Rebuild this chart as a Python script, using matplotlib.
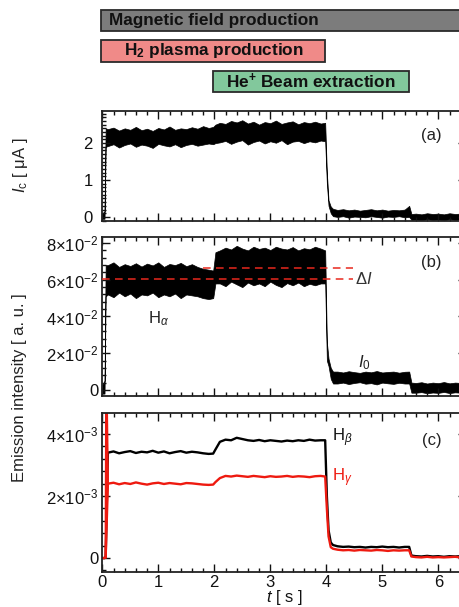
import numpy as np
import matplotlib
matplotlib.use('Agg')
import matplotlib.pyplot as plt
from matplotlib.ticker import MultipleLocator, FixedLocator, FixedFormatter

plt.rcParams['font.family'] = ['Liberation Sans', 'DejaVu Sans']
plt.rcParams['mathtext.fontset'] = 'custom'
plt.rcParams['mathtext.rm'] = 'Liberation Sans'
plt.rcParams['mathtext.it'] = 'Liberation Sans:italic'
plt.rcParams['mathtext.bf'] = 'Liberation Sans:bold'
plt.rcParams['mathtext.sf'] = 'Liberation Sans'

# ---------------- data ----------------
# phase bars
phase_labels = ['Magnetic field production',
                r'$\mathbf{H}_{\mathbf{2}}$ plasma production',
                r'$\mathbf{He}^{\mathbf{+}}$ Beam extraction']
phase_start = [0.0, 0.0, 2.0]
phase_end = [6.7, 4.0, 5.5]
phase_colors = ['#7c7c7c', '#f08a88', '#82c89c']

# common time grid [s]
t = [0.0, 0.04, 0.06,
     0.1, 0.2, 0.3, 0.4, 0.5, 0.6, 0.7, 0.8, 0.9, 1.0,
     1.1, 1.2, 1.3, 1.4, 1.5, 1.6, 1.7, 1.8, 1.9,
     1.98, 2.02,
     2.1, 2.2, 2.3, 2.4, 2.5, 2.6, 2.7, 2.8, 2.9, 3.0,
     3.1, 3.2, 3.3, 3.4, 3.5, 3.6, 3.7, 3.8, 3.9,
     3.98, 4.01, 4.04, 4.08, 4.12,
     4.2, 4.3, 4.4, 4.5, 4.6, 4.7, 4.8, 4.9, 5.0, 5.1, 5.2, 5.3, 5.4,
     5.48, 5.52,
     5.6, 5.7, 5.8, 5.9, 6.0, 6.1, 6.2, 6.3, 6.4, 6.5]

# (a) extracted current I_c [uA], envelope of noisy trace
ic_hi = [0.10, 0.15, 2.40,
         2.38, 2.42, 2.34, 2.40, 2.36, 2.44, 2.35, 2.39, 2.33, 2.41,
         2.37, 2.45, 2.36, 2.40, 2.38, 2.43, 2.39, 2.46, 2.41,
         2.44, 2.50,
         2.55, 2.52, 2.60, 2.56, 2.62, 2.53, 2.58, 2.50, 2.57, 2.54,
         2.61, 2.52, 2.56, 2.59, 2.51, 2.57, 2.54, 2.58, 2.53,
         2.55, 1.20, 0.45, 0.28, 0.22,
         0.19, 0.21, 0.18, 0.20, 0.17, 0.19, 0.21, 0.18, 0.20, 0.17, 0.19, 0.18, 0.20,
         0.30, 0.08,
         0.09, 0.07, 0.10, 0.08, 0.09, 0.07, 0.10, 0.08, 0.09, 0.08]
ic_lo = [-0.05, -0.05, 1.90,
         1.92, 1.97, 1.88, 1.95, 1.99, 1.90, 1.96, 1.93, 1.87, 1.98,
         1.94, 1.91, 1.97, 1.89, 1.95, 1.98, 1.93, 1.96, 1.99,
         1.97, 2.00,
         2.02, 2.06, 1.98, 2.04, 2.08, 1.96, 2.03, 2.07, 1.99, 2.05,
         2.01, 2.08, 1.97, 2.04, 2.06, 2.00, 2.05, 2.02, 2.07,
         2.05, 0.90, 0.30, 0.10, 0.02,
         0.00, 0.02, -0.02, 0.01, 0.00, -0.01, 0.02, 0.00, -0.02, 0.01, 0.00, 0.02, -0.01,
         0.00, -0.08,
         -0.07, -0.09, -0.06, -0.08, -0.07, -0.09, -0.06, -0.08, -0.07, -0.08]

# (b) H-alpha emission [1e-2 a.u.], envelope of noisy trace
ha_hi = [0.30, 0.50, 6.80,
         6.80, 6.95, 6.70, 6.85, 6.75, 6.90, 6.72, 6.88, 6.78, 6.95,
         6.70, 6.86, 6.80, 6.92, 6.74, 6.85, 6.70, 6.60, 6.55,
         6.50, 7.50,
         7.60, 7.75, 7.65, 7.85, 7.70, 7.60, 7.80, 7.68, 7.75, 7.62,
         7.80, 7.70, 7.65, 7.78, 7.60, 7.72, 7.66, 7.80, 7.70,
         7.60, 2.60, 1.70, 1.20, 1.00,
         1.00, 0.95, 1.02, 0.97, 0.93, 1.00, 0.96, 1.03, 0.95, 0.98, 1.00, 0.94, 0.99,
         1.00, 0.40,
         0.38, 0.42, 0.35, 0.40, 0.37, 0.43, 0.36, 0.40, 0.38, 0.41]
ha_lo = [-0.20, -0.20, 5.10,
         5.20, 5.05, 5.30, 5.10, 5.25, 5.00, 5.20, 5.15, 5.30, 5.05,
         5.20, 5.10, 5.25, 5.00, 5.20, 5.15, 5.10, 5.00, 4.95,
         5.00, 5.80,
         5.80, 5.65, 5.90, 5.75, 5.60, 5.85, 5.70, 5.80, 5.65, 5.90,
         5.72, 5.60, 5.82, 5.70, 5.85, 5.65, 5.78, 5.70, 5.80,
         5.80, 1.60, 1.30, 0.60, 0.35,
         0.35, 0.40, 0.32, 0.38, 0.42, 0.34, 0.37, 0.30, 0.40, 0.36, 0.33, 0.39, 0.35,
         0.35, -0.15,
         -0.15, -0.12, -0.18, -0.14, -0.16, -0.11, -0.17, -0.13, -0.15, -0.14]
dI_levels = [6.64, 6.04]          # [1e-2 a.u.]
dI_start = [1.8, 0.0]
dI_end = [4.47, 4.47]

# (c) H-beta and H-gamma emission [1e-3 a.u.]
hb = [0.00, 0.00, 0.02,
      3.40, 3.44, 3.38, 3.42, 3.45, 3.39, 3.43, 3.41, 3.46, 3.40,
      3.44, 3.38, 3.42, 3.45, 3.40, 3.43, 3.41, 3.38, 3.36,
      3.37, 3.50,
      3.75, 3.82, 3.80, 3.88, 3.84, 3.80, 3.78, 3.81, 3.77, 3.80,
      3.78, 3.76, 3.79, 3.77, 3.80, 3.78, 3.82, 3.79, 3.80,
      3.80, 2.00, 0.90, 0.50, 0.42,
      0.38, 0.36, 0.37, 0.35, 0.36, 0.34, 0.36, 0.35, 0.37, 0.35, 0.36, 0.34, 0.36,
      0.36, 0.08,
      0.06, 0.05, 0.07, 0.05, 0.06, 0.04, 0.06, 0.05, 0.06, 0.05]
hg = [0.00, 0.00, 0.02,
      2.40, 2.43, 2.38, 2.42, 2.39, 2.44, 2.40, 2.37, 2.41, 2.43,
      2.39, 2.42, 2.40, 2.38, 2.42, 2.41, 2.39, 2.37, 2.36,
      2.37, 2.45,
      2.58, 2.65, 2.63, 2.66, 2.64, 2.62, 2.65, 2.63, 2.61, 2.64,
      2.62, 2.63, 2.65, 2.62, 2.64, 2.63, 2.61, 2.64, 2.65,
      2.63, 1.60, 0.70, 0.35, 0.30,
      0.27, 0.25, 0.26, 0.24, 0.26, 0.25, 0.24, 0.26, 0.25, 0.23, 0.25, 0.24, 0.25,
      0.25, 0.05,
      0.03, 0.02, 0.04, 0.02, 0.03, 0.02, 0.03, 0.04, 0.02, 0.03]
hg_spike_t = [0.06, 0.07, 0.08, 0.1]
hg_spike_v = [0.02, 5.0, 5.0, 2.40]

# ticks
a_ticks = [0, 1, 2]
a_labels = ['0', '1', '2']
b_ticks = [0, 0.02, 0.04, 0.06, 0.08]
b_labels = ['0', r'$2{\times}10^{-2}$', r'$4{\times}10^{-2}$',
            r'$6{\times}10^{-2}$', r'$8{\times}10^{-2}$']
c_ticks = [0, 0.002, 0.004]
c_labels = ['0', r'$2{\times}10^{-3}$', r'$4{\times}10^{-3}$']
x_ticks = [0, 1, 2, 3, 4, 5, 6]

# ---------------- figure ----------------
W, H = 459, 607
fig = plt.figure(figsize=(W / 100, H / 100), dpi=100)

x0 = 102.3
pps = 56.0          # pixels per second
xmax = 6.5
left = x0 / W
width = xmax * pps / W

def frac_rect(top_px, bot_px):
    return [left, 1 - bot_px / H, width, (bot_px - top_px) / H]

t_arr = np.array(t)
FS = 12

def style(ax, minor_y):
    ax.set_xlim(0, xmax)
    ax.xaxis.set_major_locator(FixedLocator(x_ticks))
    ax.xaxis.set_minor_locator(MultipleLocator(0.2))
    ax.yaxis.set_minor_locator(MultipleLocator(minor_y))
    ax.tick_params(which='both', direction='in', top=True, right=True,
                   width=1.0, labelsize=FS, colors='#111111')
    ax.tick_params(which='major', length=6)
    ax.tick_params(which='minor', length=3)
    for s in ax.spines.values():
        s.set_linewidth(1.3)
        s.set_color('#222222')

# phase bars
axp = fig.add_axes([left, 1 - 100 / H, width, 100 / H])
axp.set_xlim(0, xmax)
axp.set_ylim(100, 0)
axp.axis('off')
bar_y = [9.5, 39.5, 70.5]
bar_h = [21.5, 22, 21.5]
for lab, s, e, c, y, h in zip(phase_labels, phase_start, phase_end,
                              phase_colors, bar_y, bar_h):
    axp.barh(y + h / 2, e - s, left=s - 0.02, height=h, color=c,
             edgecolor='#2a2a2a', linewidth=1.3, clip_on=False)
text_x = [2.0, 2.0, 3.72]
for lab, y, h, tx in zip(phase_labels, bar_y, bar_h, text_x):
    axp.text(tx, y + h / 2 + 0.5, lab, ha='center', va='center',
             fontsize=12.4, fontweight='bold', color='#111111')

# (a)
axa = fig.add_axes(frac_rect(111, 221))
axa.fill_between(t_arr, ic_lo, ic_hi, color='black', lw=0.5)
axa.set_ylim(-0.11, 2.87)
axa.yaxis.set_major_locator(FixedLocator(a_ticks))
axa.yaxis.set_major_formatter(FixedFormatter(a_labels))
style(axa, 0.1)
axa.tick_params(axis='y', pad=7)
axa.tick_params(axis='x', labelbottom=False)
axa.text(0.905, 0.78, '(a)', transform=axa.transAxes, fontsize=FS,
         ha='center', va='center', color='#222222')

# (b)
axb = fig.add_axes(frac_rect(237, 396))
axb.fill_between(t_arr, np.array(ha_lo) * 1e-2, np.array(ha_hi) * 1e-2,
                 color='black', lw=0.5)
for lv, s, e in zip(dI_levels, dI_start, dI_end):
    axb.plot([s, e], [lv * 1e-2, lv * 1e-2], color='#e8281e', lw=1.1,
             dashes=(5, 3.5), zorder=3)
axb.set_ylim(-0.0033, 0.0833)
axb.yaxis.set_major_locator(FixedLocator(b_ticks))
axb.yaxis.set_major_formatter(FixedFormatter(b_labels))
style(axb, 0.004)
axb.tick_params(axis='y', pad=3)
axb.tick_params(axis='x', labelbottom=False)
axb.text(0.905, 0.84, '(b)', transform=axb.transAxes, fontsize=FS,
         ha='center', va='center', color='#222222')
axb.text(4.52, 0.0605, r'$\Delta I$', fontsize=FS, ha='left', va='center',
         color='#333333')
axb.text(1.0, 0.0387, r'H$_{\alpha}$', fontsize=FS, ha='center', va='center',
         color='#222222')
axb.text(4.68, 0.0150, r'$I_{\rm 0}$', fontsize=FS, ha='center', va='center',
         color='#222222')

# (c)
axc = fig.add_axes(frac_rect(413, 572))
axc.plot(t_arr, np.array(hb) * 1e-3, color='black', lw=1.7)
axc.plot(hg_spike_t, np.array(hg_spike_v) * 1e-3, color='#ee1a10', lw=1.6)
axc.plot(t_arr, np.array(hg) * 1e-3, color='#ee1a10', lw=1.7)
axc.set_ylim(-0.45e-3, 4.68e-3)
axc.yaxis.set_major_locator(FixedLocator(c_ticks))
axc.yaxis.set_major_formatter(FixedFormatter(c_labels))
style(axc, 0.0004)
axc.tick_params(axis='y', pad=3)
axc.tick_params(axis='x', pad=2)
axc.text(0.905, 0.83, '(c)', transform=axc.transAxes, fontsize=FS,
         ha='center', va='center', color='#222222')
axc.text(4.1, 3.88e-3, r'H$_{\beta}$', fontsize=FS, ha='left', va='center',
         color='#111111')
axc.text(4.1, 2.58e-3, r'H$_{\gamma}$', fontsize=FS, ha='left', va='center',
         color='#ee1a10')
axc.set_xlabel(r'$t$ [ s ]', fontsize=FS, labelpad=-1, color='#111111')

# y labels
fig.text(20 / W, 1 - 165 / H, r'$I_{\rm c}$ [ μA ]', rotation=90,
         ha='center', va='center', fontsize=FS, color='#222222')
fig.text(20 / W, 1 - 388 / H, 'Emission intensity [ a. u. ]', rotation=90,
         ha='center', va='center', fontsize=FS, color='#222222')

fig.savefig('out.png', dpi=100)
